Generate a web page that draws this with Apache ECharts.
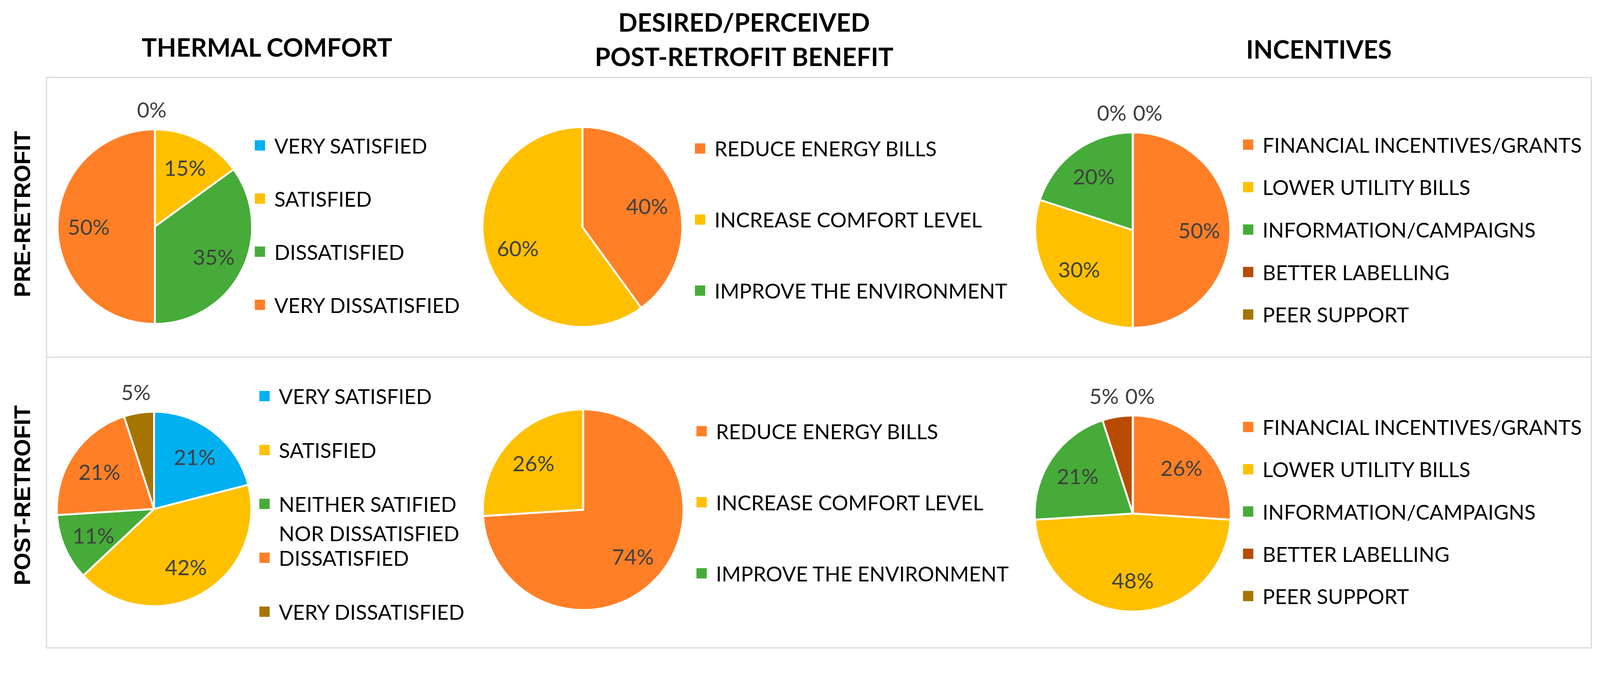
<!DOCTYPE html>
<html>
<head>
<meta charset="utf-8">
<script src="https://cdn.jsdelivr.net/npm/echarts@6/dist/echarts.min.js"></script>
<style>
html,body{margin:0;padding:0;background:#fff;overflow:hidden;}
#main{width:100vw;height:100vh;}
</style>
</head>
<body>
<div id="main"></div>
<script>
// ---------------- DATA ----------------
const thermalPreCats = ['VERY SATISFIED', 'SATISFIED', 'DISSATISFIED', 'VERY DISSATISFIED'];
const thermalPreValues = [0, 15, 35, 50];
const thermalPostCats = ['VERY SATISFIED', 'SATISFIED', 'NEITHER SATIFIED\nNOR DISSATISFIED', 'DISSATISFIED', 'VERY DISSATISFIED'];
const thermalPostValues = [21, 42, 11, 21, 5];
const benefitCats = ['REDUCE ENERGY BILLS', 'INCREASE COMFORT LEVEL', 'IMPROVE THE ENVIRONMENT'];
const benefitPreValues = [40, 60, null];
const benefitPostValues = [74, 26, null];
const incentiveCats = ['FINANCIAL INCENTIVES/GRANTS', 'LOWER UTILITY BILLS', 'INFORMATION/CAMPAIGNS', 'BETTER LABELLING', 'PEER SUPPORT'];
const incentivePreValues = [50, 30, 20, 0, 0];
const incentivePostValues = [26, 48, 21, 5, 0];
const columnTitles = ['THERMAL COMFORT', 'DESIRED/PERCEIVED\nPOST-RETROFIT BENEFIT', 'INCENTIVES'];
const rowTitles = ['PRE-RETROFIT', 'POST-RETROFIT'];

// ---------------- LAYOUT / STYLE ----------------
const el = document.getElementById('main');
const W0 = 4195;
const s = el.clientWidth / W0;          // one uniform scale for the whole design
const X = (v) => v * s, Y = (v) => v * s, S = (v) => v * s;

const C = {
  blue: '#00B0F0', yellow: '#FFC000', green: '#46AB38', orange: '#FF7F27',
  rust: '#B84B00', brown: '#A67400'
};
const FONT = 'Lato, "Open Sans", sans-serif';
const LBL = S(56);      // slice labels
const LEG = S(54);      // legend text
const SQ = S(27);       // legend square

const pies = [
  { cats: thermalPreCats, values: thermalPreValues, colors: [C.blue, C.yellow, C.green, C.orange],
    cx: 406, cy: 594, r: 255, legend: { left: 668, first: 381, step: 139 } },
  { cats: benefitCats, values: benefitPreValues, colors: [C.orange, C.yellow, C.green],
    cx: 1527, cy: 595, r: 262, legend: { left: 1822, first: 389, step: 186 } },
  { cats: incentiveCats, values: incentivePreValues, colors: [C.orange, C.yellow, C.green, C.rust, C.brown],
    cx: 2970, cy: 603, r: 256, legend: { left: 3259, first: 379, step: 111 } },
  { cats: thermalPostCats, values: thermalPostValues, colors: [C.blue, C.yellow, C.green, C.orange, C.brown],
    cx: 404, cy: 1334, r: 255, legend: { left: 680, first: 1038, step: 141 } },
  { cats: benefitCats, values: benefitPostValues, colors: [C.orange, C.yellow, C.green],
    cx: 1529, cy: 1336, r: 263, legend: { left: 1826, first: 1130, step: 186 } },
  { cats: incentiveCats, values: incentivePostValues, colors: [C.orange, C.yellow, C.green, C.rust, C.brown],
    cx: 2970, cy: 1346, r: 257, legend: { left: 3259, first: 1119, step: 110.5 } }
];

const SMALL = 5; // slices at or below this are labelled outside the pie

function labelLayout(params) {
  const p = pies[params.seriesIndex];
  const vals = p.values;
  const total = vals.reduce((a, b) => a + (b || 0), 0);
  const midOf = (i) => {
    let cum = 0;
    for (let k = 0; k < i; k++) cum += vals[k] || 0;
    return (cum + (vals[i] || 0) / 2) / total * Math.PI * 2;
  };
  const i = params.dataIndex;
  const v = vals[i];
  const mid = midOf(i);
  const cx = X(p.cx), cy = Y(p.cy), r = S(p.r);
  if (v > SMALL) {
    const k = 0.68;
    return { x: cx + k * r * Math.sin(mid), y: cy - k * r * Math.cos(mid), align: 'center', verticalAlign: 'middle' };
  }
  const outs = [];
  vals.forEach((val, j) => { if (val != null && val <= SMALL) outs.push(j); });
  const avg = outs.reduce((a, j) => a + r * Math.sin(midOf(j)), 0) / outs.length;
  const w = params.labelRect.width, gap = S(17);
  const T = outs.length * w + (outs.length - 1) * gap;
  const pos = outs.indexOf(i);
  return { x: cx + avg - T / 2 - S(8) + pos * (w + gap), y: cy - r - S(52), align: 'left', verticalAlign: 'middle' };
}

const series = pies.map((p) => ({
  type: 'pie',
  center: [X(p.cx), Y(p.cy)],
  radius: S(p.r),
  startAngle: 90,
  clockwise: true,
  avoidLabelOverlap: false,
  animation: false,
  silent: true,
  itemStyle: { borderColor: '#fff', borderWidth: S(5) },
  label: {
    show: true, position: 'inside', formatter: (d) => d.value + '%',
    fontSize: LBL, fontFamily: FONT, color: '#404040'
  },
  labelLine: { show: false },
  labelLayout: labelLayout,
  emphasis: { disabled: true },
  data: p.cats.map((c, j) => ({
    name: c, value: p.values[j] == null ? '-' : p.values[j],
    itemStyle: { color: p.colors[j] }
  }))
}));

// legend text box height equals the font's line box (about the font size)
const legends = pies.map((p) => ({
  orient: 'vertical',
  left: X(p.legend.left),
  top: Y(p.legend.first) - LEG / 2,
  itemWidth: SQ, itemHeight: SQ,
  itemGap: Y(p.legend.step) - LEG,
  icon: 'rect',
  padding: 0,
  selectedMode: false,
  formatter: (name) => name.split('\n')[0],
  textStyle: { fontSize: LEG, fontFamily: FONT, color: '#000', padding: [0, 0, 0, S(19)] },
  data: p.cats.map((c, j) => ({ name: c, itemStyle: { color: p.colors[j], borderWidth: 0 } }))
}));

// second line of the wrapped legend entry
const wrapped = thermalPostCats[2].split('\n')[1];
const postLeg = pies[3].legend;

const titleFont = 'bold ' + S(66) + 'px ' + FONT;
const rowFont = 'bold ' + S(59) + 'px "Liberation Sans", Arial, sans-serif';
const graphic = [
  { type: 'rect', shape: { x: X(122), y: Y(203), width: X(4050), height: Y(1495) }, style: { fill: 'none', stroke: '#D9D9D9', lineWidth: S(3) }, silent: true },
  { type: 'line', shape: { x1: X(122), y1: Y(936), x2: X(4172), y2: Y(936) }, style: { stroke: '#D9D9D9', lineWidth: S(3) }, silent: true },
  { type: 'text', x: X(700), y: Y(123), style: { text: columnTitles[0], font: titleFont, fill: '#000', align: 'center', verticalAlign: 'middle' } },
  { type: 'text', x: X(1951), y: Y(102), style: { text: columnTitles[1], font: titleFont, fill: '#000', align: 'center', verticalAlign: 'middle', lineHeight: S(90) } },
  { type: 'text', x: X(3458), y: Y(128), style: { text: columnTitles[2], font: titleFont, fill: '#000', align: 'center', verticalAlign: 'middle' } },
  { type: 'text', x: X(58), y: Y(561), rotation: Math.PI / 2, style: { text: rowTitles[0], font: rowFont, fill: '#000', align: 'center', verticalAlign: 'middle' } },
  { type: 'text', x: X(58), y: Y(1298), rotation: Math.PI / 2, style: { text: rowTitles[1], font: rowFont, fill: '#000', align: 'center', verticalAlign: 'middle' } },
  { type: 'text', x: X(postLeg.left) + SQ + 5 + S(19), y: Y(postLeg.first + postLeg.step * 2 + 77),
    style: { text: wrapped, font: LEG + 'px ' + FONT, fill: '#000', align: 'left', verticalAlign: 'middle' } }
];

const chart = echarts.init(el, null, { renderer: 'svg' });
chart.setOption({
  backgroundColor: '#fff',
  animation: false,
  legend: legends,
  series: series,
  graphic: graphic
});
</script>
</body>
</html>
